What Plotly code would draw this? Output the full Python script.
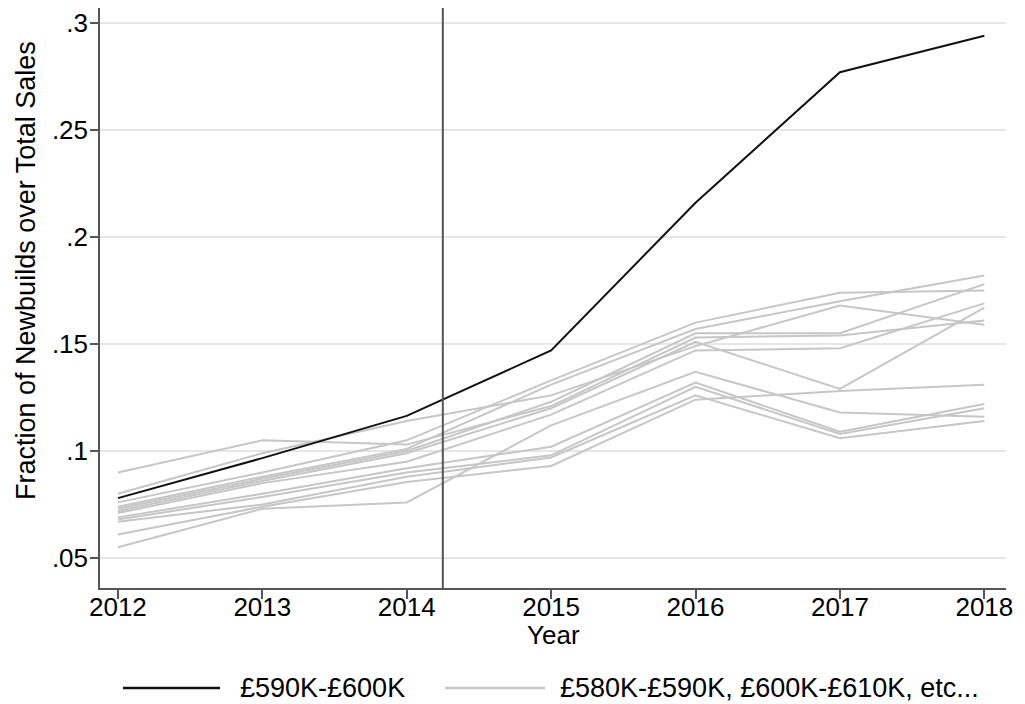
import plotly.graph_objects as go

years = [2012, 2013, 2014, 2015, 2016, 2017, 2018]

treated_label = "£590K-£600K"
treated = [0.078, 0.0967, 0.1164, 0.147, 0.216, 0.277, 0.294]

control_label = "£580K-£590K, £600K-£610K, etc..."
g1 = [0.090, 0.105, 0.103, 0.121, 0.153, 0.154, 0.161]
g2 = [0.080, 0.099, 0.114, 0.126, 0.149, 0.168, 0.159]
g3 = [0.076, 0.090, 0.105, 0.133, 0.160, 0.174, 0.175]
g4 = [0.074, 0.088, 0.101, 0.131, 0.157, 0.170, 0.182]
g5 = [0.073, 0.087, 0.100, 0.123, 0.155, 0.155, 0.178]
g6 = [0.072, 0.086, 0.099, 0.120, 0.151, 0.129, 0.167]
g7 = [0.071, 0.085, 0.095, 0.117, 0.147, 0.148, 0.169]
g8 = [0.069, 0.080, 0.092, 0.102, 0.132, 0.109, 0.122]
g9 = [0.068, 0.0785, 0.090, 0.098, 0.130, 0.108, 0.120]
g10 = [0.067, 0.075, 0.088, 0.097, 0.126, 0.106, 0.114]
g11 = [0.061, 0.074, 0.0855, 0.093, 0.124, 0.128, 0.131]
g12 = [0.055, 0.073, 0.076, 0.112, 0.137, 0.118, 0.116]
controls = [g1, g2, g3, g4, g5, g6, g7, g8, g9, g10, g11, g12]

event_x = 2014.25

y_tickvals = [0.05, 0.1, 0.15, 0.2, 0.25, 0.3]
y_ticktext = [".05", ".1", ".15", ".2", ".25", ".3"]

x_title = "Year"
y_title = "Fraction of Newbuilds over Total Sales"

FONT = "Liberation Sans, Arial, sans-serif"
GRAY = "#c6c6c6"
BLACK = "#111111"

fig = go.Figure()
for i, g in enumerate(controls):
    fig.add_trace(go.Scatter(
        x=years, y=g, mode="lines",
        line=dict(color=GRAY, width=2),
        name=control_label, showlegend=False, hoverinfo="skip"))
fig.add_trace(go.Scatter(
    x=years, y=treated, mode="lines",
    line=dict(color=BLACK, width=2),
    name=treated_label, showlegend=False))

fig.add_shape(type="line", xref="x", yref="paper", x0=event_x, x1=event_x,
              y0=0, y1=1, line=dict(color="#555555", width=2))

# legend (drawn below the plot, in paper coordinates)
leg_y = -0.1724
legend_items = [
    (0.0254, 0.1325, 0.1523, BLACK, treated_label),
    (0.3808, 0.4912, 0.5055, GRAY, control_label),
]
for x0, x1, xt, col, lab in legend_items:
    fig.add_shape(type="line", xref="paper", yref="paper", x0=x0, x1=x1,
                  y0=leg_y, y1=leg_y, line=dict(color=col, width=2.5))
    fig.add_annotation(xref="paper", yref="paper", x=xt, y=leg_y, text=lab,
                       showarrow=False, xanchor="left", yanchor="middle",
                       font=dict(size=27, family=FONT, color="black"))

# axis titles
fig.add_annotation(xref="paper", yref="paper", x=0.5, y=-0.0810, text=x_title,
                   showarrow=False, xanchor="center", yanchor="middle",
                   font=dict(size=26, family=FONT, color="black"))
fig.add_annotation(xref="paper", yref="paper", x=-0.0817, y=0.5483, text=y_title,
                   showarrow=False, xanchor="center", yanchor="middle", textangle=-90,
                   font=dict(size=27, family=FONT, color="black"))

fig.update_layout(
    width=1017, height=696,
    margin=dict(l=92, r=19, t=0, b=116),
    paper_bgcolor="white", plot_bgcolor="white",
    font=dict(family=FONT, size=26, color="black"),
    showlegend=False,
)
fig.update_xaxes(
    range=[2011.876, 2018.15], tickvals=years, automargin=False,
    showgrid=False, zeroline=False,
    showline=True, linecolor="#555555", linewidth=1.5,
    ticks="outside", ticklen=9, tickcolor="#555555", tickwidth=1.5,
    tickfont=dict(size=26), ticklabelstandoff=-14,
)
fig.update_yaxes(
    range=[0.036, 0.307], tickvals=y_tickvals, ticktext=y_ticktext, automargin=False,
    showgrid=True, gridcolor="#e6e6e6", gridwidth=1.5, zeroline=False,
    showline=True, linecolor="#555555", linewidth=1.5,
    ticks="outside", ticklen=8, tickcolor="#555555", tickwidth=1.5,
    tickfont=dict(size=26), ticklabelstandoff=-3,
)

fig.write_html("out.html")
